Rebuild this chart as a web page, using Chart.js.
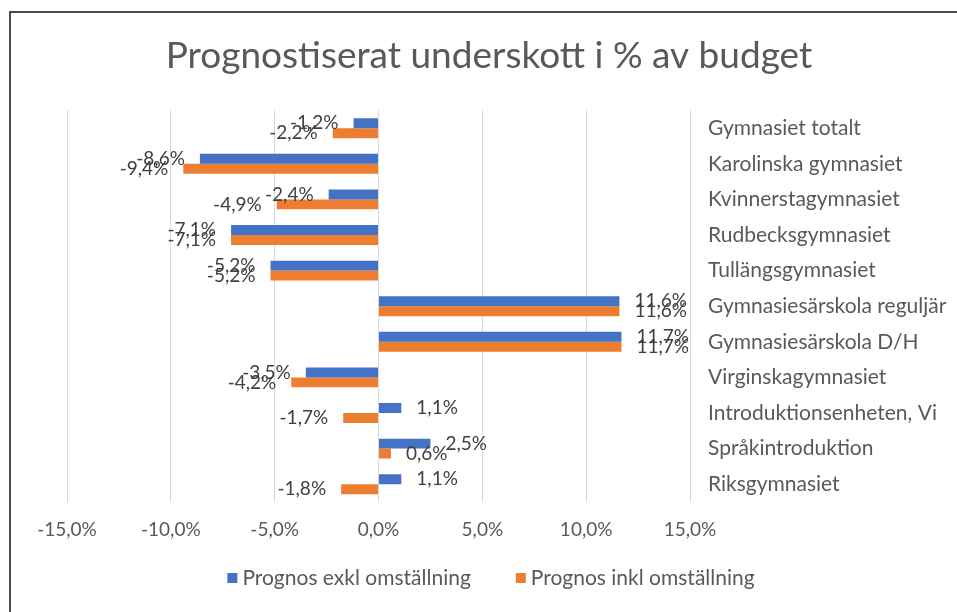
<!DOCTYPE html>
<html>
<head>
<meta charset="utf-8">
<script src="https://cdn.jsdelivr.net/npm/chart.js@4"></script>
<style>
  body { margin: 0; background: #fff; }
  #wrap { position: relative; width: 957px; height: 612px; }
  #frameTop { position: absolute; left: 9px; top: 11px; width: 948px; height: 2px; background: #4a4a4a; }
  #frameLeft { position: absolute; left: 9px; top: 11px; width: 2px; height: 601px; background: #4a4a4a; }
</style>
</head>
<body>
<div id="wrap">
  <canvas id="chart" width="957" height="612"></canvas>
  <div id="frameTop"></div>
  <div id="frameLeft"></div>
</div>
<script>
const categories = [
    'Gymnasiet totalt',
    'Karolinska gymnasiet',
    'Kvinnerstagymnasiet',
    'Rudbecksgymnasiet',
    'Tullängsgymnasiet',
    'Gymnasiesärskola reguljär',
    'Gymnasiesärskola D/H',
    'Virginskagymnasiet',
    'Introduktionsenheten, Vi',
    'Språkintroduktion',
    'Riksgymnasiet'
];
const exklOmstallning = [-1.2, -8.6, -2.4, -7.1, -5.2, 11.6, 11.7, -3.5, 1.1, 2.5, 1.1];
const inklOmstallning = [-2.2, -9.4, -4.9, -7.1, -5.2, 11.6, 11.7, -4.2, -1.7, 0.6, -1.8];
const xTicks = [-15, -10, -5, 0, 5, 10, 15];

const fontFamily = 'Lato, "Open Sans", sans-serif';
const textGray = '#595959';

function pct(v) {
    return v.toFixed(1).replace('.', ',') + '%';
}

// draws the value next to the end of each bar, like Excel "outside end"
const barLabels = {
    id: 'barLabels',
    afterDatasetsDraw(chart) {
        const ctx = chart.ctx;
        ctx.save();
        ctx.font = '19px ' + fontFamily;
        ctx.fillStyle = '#404040';
        ctx.textBaseline = 'middle';
        chart.data.datasets.forEach((ds, i) => {
            chart.getDatasetMeta(i).data.forEach((bar, j) => {
                const v = ds.data[j];
                if (v >= 0) {
                    ctx.textAlign = 'left';
                    ctx.fillText(pct(v), bar.x + 15, bar.y);
                } else {
                    ctx.textAlign = 'right';
                    ctx.fillText(pct(v), bar.x - 15, bar.y);
                }
            });
        });
        ctx.restore();
    }
};

// Excel style legend: small squares, wide gap between the two entries
const bottomLegend = {
    id: 'bottomLegend',
    afterDraw(chart) {
        const ctx = chart.ctx;
        ctx.save();
        ctx.font = '21px ' + fontFamily;
        ctx.textBaseline = 'middle';
        ctx.textAlign = 'left';
        const box = 10, gap = 5, between = 45, cy = 578, cx = 491;
        const items = chart.data.datasets.map(ds => ({
            text: ds.label,
            color: ds.backgroundColor,
            w: box + gap + ctx.measureText(ds.label).width
        }));
        const total = items.reduce((s, it) => s + it.w, 0) + between * (items.length - 1);
        let x = cx - total / 2;
        items.forEach(it => {
            ctx.fillStyle = it.color;
            ctx.fillRect(x, cy - box / 2, box, box);
            ctx.fillStyle = textGray;
            ctx.fillText(it.text, x + box + gap, cy);
            x += it.w + between;
        });
        ctx.restore();
    }
};

const ctx = document.getElementById('chart').getContext('2d');
new Chart(ctx, {
    type: 'bar',
    data: {
        labels: categories,
        datasets: [{
            label: 'Prognos exkl omställning',
            data: exklOmstallning,
            backgroundColor: '#4472C4',
            borderWidth: 0
        }, {
            label: 'Prognos inkl omställning',
            data: inklOmstallning,
            backgroundColor: '#ED7D31',
            borderWidth: 0
        }]
    },
    options: {
        indexAxis: 'y',
        responsive: false,
        animation: false,
        layout: { padding: { left: 21, right: 0, top: 0, bottom: 0 } },
        datasets: {
            bar: { categoryPercentage: 0.56, barPercentage: 1.0 }
        },
        scales: {
            x: {
                min: -15,
                max: 15,
                afterBuildTicks: scale => {
                    scale.ticks = xTicks.map(v => ({ value: v }));
                },
                afterFit: scale => { scale.height = 110; },
                grid: { color: '#d9d9d9', drawTicks: false },
                border: { display: false },
                ticks: {
                    padding: 16,
                    color: textGray,
                    font: { family: fontFamily, size: 19 },
                    callback: v => pct(v)
                }
            },
            y: {
                position: 'right',
                afterFit: scale => { scale.width = 267; },
                grid: { display: false, drawTicks: false },
                border: { display: false },
                ticks: {
                    padding: 18,
                    color: textGray,
                    font: { family: fontFamily, size: 21 }
                }
            },
            // empty spacer on the left so the plot starts where the reference does
            spacer: {
                type: 'linear',
                axis: 'y',
                position: 'left',
                afterFit: scale => { scale.width = 46; },
                grid: { display: false, drawTicks: false },
                border: { display: false },
                ticks: { display: false }
            }
        },
        plugins: {
            title: {
                display: true,
                text: 'Prognostiserat underskott i % av budget',
                color: textGray,
                font: { family: fontFamily, size: 37, weight: 'normal' },
                padding: { top: 34, bottom: 32 }
            },
            legend: { display: false },
            tooltip: { enabled: false }
        }
    },
    plugins: [barLabels, bottomLegend]
});
</script>
</body>
</html>
